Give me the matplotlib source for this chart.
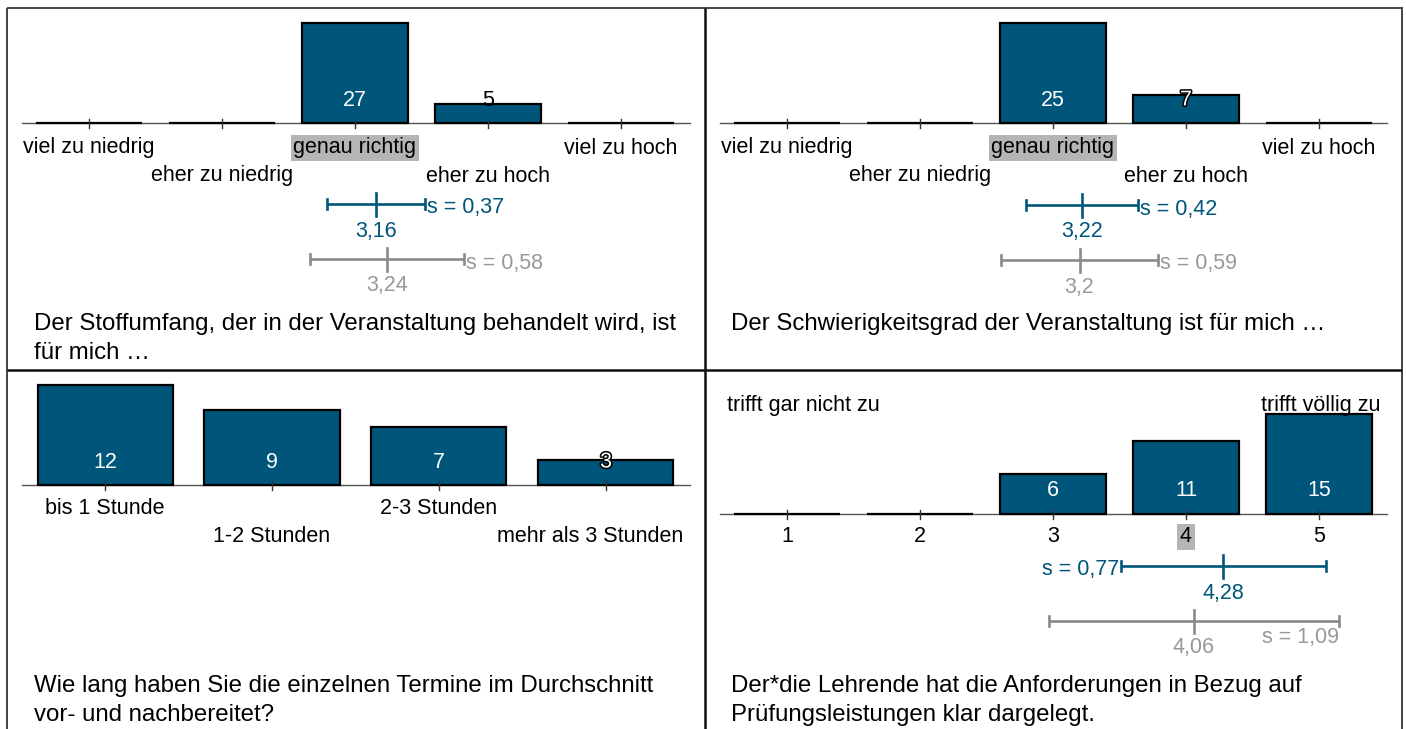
import matplotlib
matplotlib.use('Agg')
import matplotlib.pyplot as plt
from matplotlib.lines import Line2D
import matplotlib.patheffects as pe

# ---------------- data ----------------
cats1 = ['viel zu niedrig', 'eher zu niedrig', 'genau richtig', 'eher zu hoch', 'viel zu hoch']
counts1 = [0, 0, 27, 5, 0]
mean1, sd1 = 3.16, 0.37
mean1_ref, sd1_ref = 3.24, 0.58
hl1 = 2
q1 = ['Der Stoffumfang, der in der Veranstaltung behandelt wird, ist', 'für mich …']

cats2 = ['viel zu niedrig', 'eher zu niedrig', 'genau richtig', 'eher zu hoch', 'viel zu hoch']
counts2 = [0, 0, 25, 7, 0]
mean2, sd2 = 3.22, 0.42
mean2_ref, sd2_ref = 3.2, 0.59
hl2 = 2
q2 = ['Der Schwierigkeitsgrad der Veranstaltung ist für mich …']

cats3 = ['bis 1 Stunde', '1-2 Stunden', '2-3 Stunden', 'mehr als 3 Stunden']
counts3 = [12, 9, 7, 3]
q3 = ['Wie lang haben Sie die einzelnen Termine im Durchschnitt', 'vor- und nachbereitet?']

cats4 = ['1', '2', '3', '4', '5']
counts4 = [0, 0, 6, 11, 15]
mean4, sd4 = 4.28, 0.77
mean4_ref, sd4_ref = 4.06, 1.09
hl4 = 3
poles4 = ['trifft gar nicht zu', 'trifft völlig zu']
q4 = ['Der*die Lehrende hat die Anforderungen in Bezug auf', 'Prüfungsleistungen klar dargelegt.']

# ---------------- style ----------------
W, H = 1406, 729
plt.rcParams['font.family'] = ['Liberation Sans', 'DejaVu Sans']
BLUE = '#00567a'
GREY = '#8a8a8a'
GREYTXT = '#999999'
FS = 15.5
FSQ = 17.3

fig = plt.figure(figsize=(W / 100, H / 100), dpi=100)
renderer = fig.canvas.get_renderer()


def fmt(v):
    return format(v, 'g').replace('.', ',')


def make_panel(cell, c0, step, base, maxc):
    x0, y0, x1, y1 = cell
    ax = fig.add_axes([x0 / W, 1 - y1 / H, (x1 - x0) / W, (y1 - y0) / H])
    k = maxc / 100.0
    ax.set_xlim(1 + (x0 - c0) / step, 1 + (x1 - c0) / step)
    ax.set_ylim(-(y1 - base) * k, (base - y0) * k)
    ax.axis('off')
    X = lambda px: 1 + (px - c0) / step
    Y = lambda py: (base - py) * k
    return ax, X, Y, step, base, maxc


def draw_bars(P, counts, barw, line_x):
    ax, X, Y, step, base, maxc = P
    n = len(counts)
    xs = list(range(1, n + 1))
    ax.plot([X(line_x[0]), X(line_x[1])], [0, 0], color='#555555', lw=1.0, zorder=2)
    ax.bar(xs, counts, width=barw, color=BLUE, edgecolor='black', linewidth=1.6, zorder=3)
    for x in xs:
        ax.plot([x, x], [Y(base - 4), Y(base + 5)], color='#333333', lw=1.0, zorder=4)
    for x, c in zip(xs, counts):
        if c <= 0:
            continue
        hpx = c / maxc * 100
        ty = Y(base - 23)
        if hpx >= 34:
            ax.text(x, ty, str(c), color='white', fontsize=FS, ha='center', va='center', zorder=5)
        elif hpx < 21:
            ax.text(x, ty, str(c), color='black', fontsize=FS, ha='center', va='center', zorder=5)
        else:
            ax.text(x, ty, str(c), color='white', fontsize=FS, ha='center', va='center', zorder=5,
                    path_effects=[pe.withStroke(linewidth=2.2, foreground='black')])


def draw_labels(P, cats, rows, hl=None, xmax_px=None):
    ax, X, Y, step, base, maxc = P
    for i, c in enumerate(cats):
        ypx = rows[i % len(rows)]
        kw = {}
        if hl is not None and i == hl:
            kw['bbox'] = dict(boxstyle='square,pad=0.12', facecolor='#b5b5b5', edgecolor='none')
        t = ax.text(i + 1, Y(ypx), c, fontsize=FS, ha='center', va='center', color='black', **kw)
        if xmax_px is not None:
            bb = t.get_window_extent(renderer)
            if bb.x1 > xmax_px:
                t.set_x(i + 1 - (bb.x1 - xmax_px) / step)


def draw_stat(P, mean, sd, ypx, color, txtcolor, mean_dy, s_side, s_dy):
    ax, X, Y, step, base, maxc = P
    lo, hi = mean - sd, mean + sd
    ax.plot([lo, hi], [Y(ypx)] * 2, color=color, lw=1.9, zorder=3, solid_capstyle='butt')
    for e in (lo, hi):
        ax.plot([e, e], [Y(ypx - 5), Y(ypx + 5)], color=color, lw=1.9, zorder=3)
    ax.plot([mean, mean], [Y(ypx - 11), Y(ypx + 12)], color=color, lw=1.9, zorder=3)
    ax.text(mean, Y(ypx + mean_dy), fmt(mean), color=txtcolor, fontsize=FS, ha='center', va='center')
    st = 's = ' + fmt(sd)
    if s_side == 'right':
        ax.text(hi + 2 / step, Y(ypx + s_dy), st, color=txtcolor, fontsize=FS, ha='left', va='center')
    elif s_side == 'left':
        ax.text(lo - 2 / step, Y(ypx + s_dy), st, color=txtcolor, fontsize=FS, ha='right', va='center')
    else:
        ax.text(hi, Y(ypx + s_dy), st, color=txtcolor, fontsize=FS, ha='right', va='center')


def draw_question(P, lines, xpx, baselines):
    ax, X, Y, step, base, maxc = P
    for ln, b in zip(lines, baselines):
        ax.text(X(xpx), Y(b), ln, fontsize=FSQ, ha='left', va='baseline', color='black')


# ---------------- panel 1 ----------------
P1 = make_panel((8, 8, 705, 370), 89, 133, 123, max(counts1))
draw_bars(P1, counts1, 0.8, (22, 690))
draw_labels(P1, cats1, [148, 176], hl1)
draw_stat(P1, mean1, sd1, 204, BLUE, BLUE, 28, 'right', 4)
draw_stat(P1, mean1_ref, sd1_ref, 259, GREY, GREYTXT, 27, 'right', 4)
draw_question(P1, q1, 34, [330, 359])

# ---------------- panel 2 ----------------
P2 = make_panel((705, 8, 1402, 370), 787, 133, 123, max(counts2))
draw_bars(P2, counts2, 0.8, (720, 1387))
draw_labels(P2, cats2, [148, 176], hl2)
draw_stat(P2, mean2, sd2, 205, BLUE, BLUE, 27, 'right', 4)
draw_stat(P2, mean2_ref, sd2_ref, 260, GREY, GREYTXT, 27, 'right', 4)
draw_question(P2, q2, 731, [330])

# ---------------- panel 3 ----------------
P3 = make_panel((8, 370, 705, 729), 105, 167, 485, max(counts3))
draw_bars(P3, counts3, 135 / 167, (22, 690))
draw_labels(P3, cats3, [509, 537], xmax_px=683)
draw_question(P3, q3, 34, [692, 721])

# ---------------- panel 4 ----------------
P4 = make_panel((705, 370, 1402, 729), 787, 133, 514, max(counts4))
draw_bars(P4, counts4, 0.8, (720, 1387))
draw_labels(P4, cats4, [537], hl4)
ax4, X4, Y4 = P4[0], P4[1], P4[2]
ax4.text(X4(727), Y4(406), poles4[0], fontsize=FS, ha='left', va='center')
ax4.text(X4(1381), Y4(406), poles4[1], fontsize=FS, ha='right', va='center')
draw_stat(P4, mean4, sd4, 566, BLUE, BLUE, 27, 'left', 4)
draw_stat(P4, mean4_ref, sd4_ref, 621, GREY, GREYTXT, 27, 'below', 17)
draw_question(P4, q4, 731, [692, 721])

# ---------------- table borders ----------------
def fline(x0, y0, x1, y1, color, lw):
    fig.add_artist(Line2D([x0 / W, x1 / W], [1 - y0 / H, 1 - y1 / H], transform=fig.transFigure,
                          color=color, lw=lw, solid_capstyle='butt'))

fline(7, 8, 1403, 8, '#444444', 1.4)
fline(7, 8, 7, 729, '#444444', 1.4)
fline(1402, 8, 1402, 729, '#444444', 1.4)
fline(705, 8, 705, 729, '#111111', 1.8)
fline(7, 370, 1402, 370, '#111111', 1.8)

fig.savefig('out.png', dpi=100)
